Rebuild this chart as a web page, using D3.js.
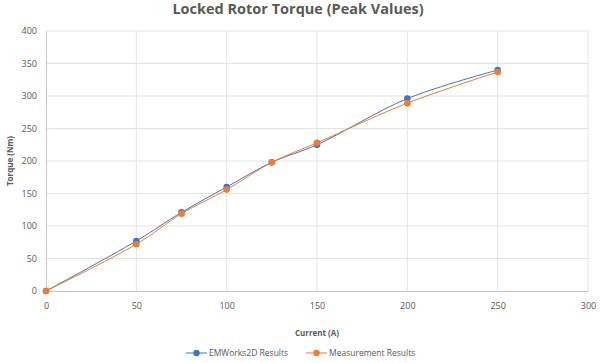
<!DOCTYPE html>
<html>
<head>
<meta charset="utf-8">
<script src="https://cdn.jsdelivr.net/npm/d3@7"></script>
<style>
  body { margin: 0; background: #fff; }
  text { font-family: "Open Sans", "Liberation Sans", sans-serif; fill: #595959; }
</style>
</head>
<body>
<div id="chart"></div>
<script>
// current (A)
var current = [0, 50, 75, 100, 125, 150, 200, 250];
// torque (Nm)
var emworks = [0, 77, 121, 160, 198, 225, 296, 340];
var measured = [0, 72, 119, 156, 198, 228, 289, 337];

var seriesNames = ['EMWorks2D Results', 'Measurement Results'];
var seriesColors = ['#4472c4', '#ed7d31'];

var xTicks = [0, 50, 100, 150, 200, 250, 300];
var yTicks = [0, 50, 100, 150, 200, 250, 300, 350, 400];

var width = 600, height = 363;
var margin = { top: 31, right: 12, bottom: 72, left: 46 };

var svg = d3.select('#chart').append('svg')
    .attr('width', width)
    .attr('height', height);

var x = d3.scaleLinear().domain([0, 300]).range([margin.left, width - margin.right]);
var y = d3.scaleLinear().domain([0, 400]).range([height - margin.bottom, margin.top]);

// gridlines
svg.append('g').selectAll('line.h')
    .data(yTicks.slice(1))
    .enter().append('line')
    .attr('x1', x(0)).attr('x2', x(300))
    .attr('y1', function(d) { return y(d); })
    .attr('y2', function(d) { return y(d); })
    .attr('stroke', '#e3e3e3').attr('stroke-width', 1);

svg.append('g').selectAll('line.v')
    .data(xTicks.slice(1))
    .enter().append('line')
    .attr('y1', y(0)).attr('y2', y(400))
    .attr('x1', function(d) { return x(d); })
    .attr('x2', function(d) { return x(d); })
    .attr('stroke', '#e3e3e3').attr('stroke-width', 1);

// axes
var xAxis = svg.append('g')
    .attr('transform', 'translate(0,' + y(0) + ')')
    .call(d3.axisBottom(x).tickValues(xTicks).tickSize(0).tickPadding(12));
var yAxis = svg.append('g')
    .attr('transform', 'translate(' + x(0) + ',0)')
    .call(d3.axisLeft(y).tickValues(yTicks).tickSize(0).tickPadding(9));

[xAxis, yAxis].forEach(function(a) {
    a.select('.domain').attr('stroke', '#c8c8c8');
    a.selectAll('text').style('font-size', '9px').style('fill', '#595959')
        .style('font-family', '"Open Sans", sans-serif');
});

// title + axis titles
svg.append('text')
    .attr('x', 298).attr('y', 14)
    .attr('text-anchor', 'middle')
    .style('font-size', '14.5px').style('font-weight', 700)
    .text('Locked Rotor Torque (Peak Values)');

svg.append('text')
    .attr('x', (x(0) + x(300)) / 2).attr('y', 336)
    .attr('text-anchor', 'middle')
    .style('font-size', '8px').style('font-weight', 700)
    .text('Current (A)');

svg.append('text')
    .attr('transform', 'translate(13,' + ((y(0) + y(400)) / 2) + ') rotate(-90)')
    .attr('text-anchor', 'middle')
    .style('font-size', '8px').style('font-weight', 700)
    .text('Torque (Nm)');

// series
var series = [emworks, measured];
var line = d3.line()
    .x(function(d) { return x(d[0]); })
    .y(function(d) { return y(d[1]); })
    .curve(d3.curveCatmullRom.alpha(0.5));

series.forEach(function(vals, i) {
    var pts = current.map(function(c, j) { return [c, vals[j]]; });
    svg.append('path')
        .datum(pts)
        .attr('d', line)
        .attr('fill', 'none')
        .attr('stroke', seriesColors[i])
        .attr('stroke-width', 1);
    svg.append('g').selectAll('circle')
        .data(pts)
        .enter().append('circle')
        .attr('cx', function(d) { return x(d[0]); })
        .attr('cy', function(d) { return y(d[1]); })
        .attr('r', 3.3)
        .attr('fill', seriesColors[i]);
});

// legend
var legendX = [186, 306];
seriesNames.forEach(function(name, i) {
    var g = svg.append('g').attr('transform', 'translate(' + legendX[i] + ',353)');
    g.append('line').attr('x1', 0).attr('x2', 21).attr('y1', 0).attr('y2', 0)
        .attr('stroke', seriesColors[i]).attr('stroke-width', 1);
    g.append('circle').attr('cx', 10.5).attr('cy', 0).attr('r', 3.2).attr('fill', seriesColors[i]);
    g.append('text').attr('x', 23).attr('y', 3)
        .style('font-size', '8.5px')
        .text(name);
});
</script>
</body>
</html>
